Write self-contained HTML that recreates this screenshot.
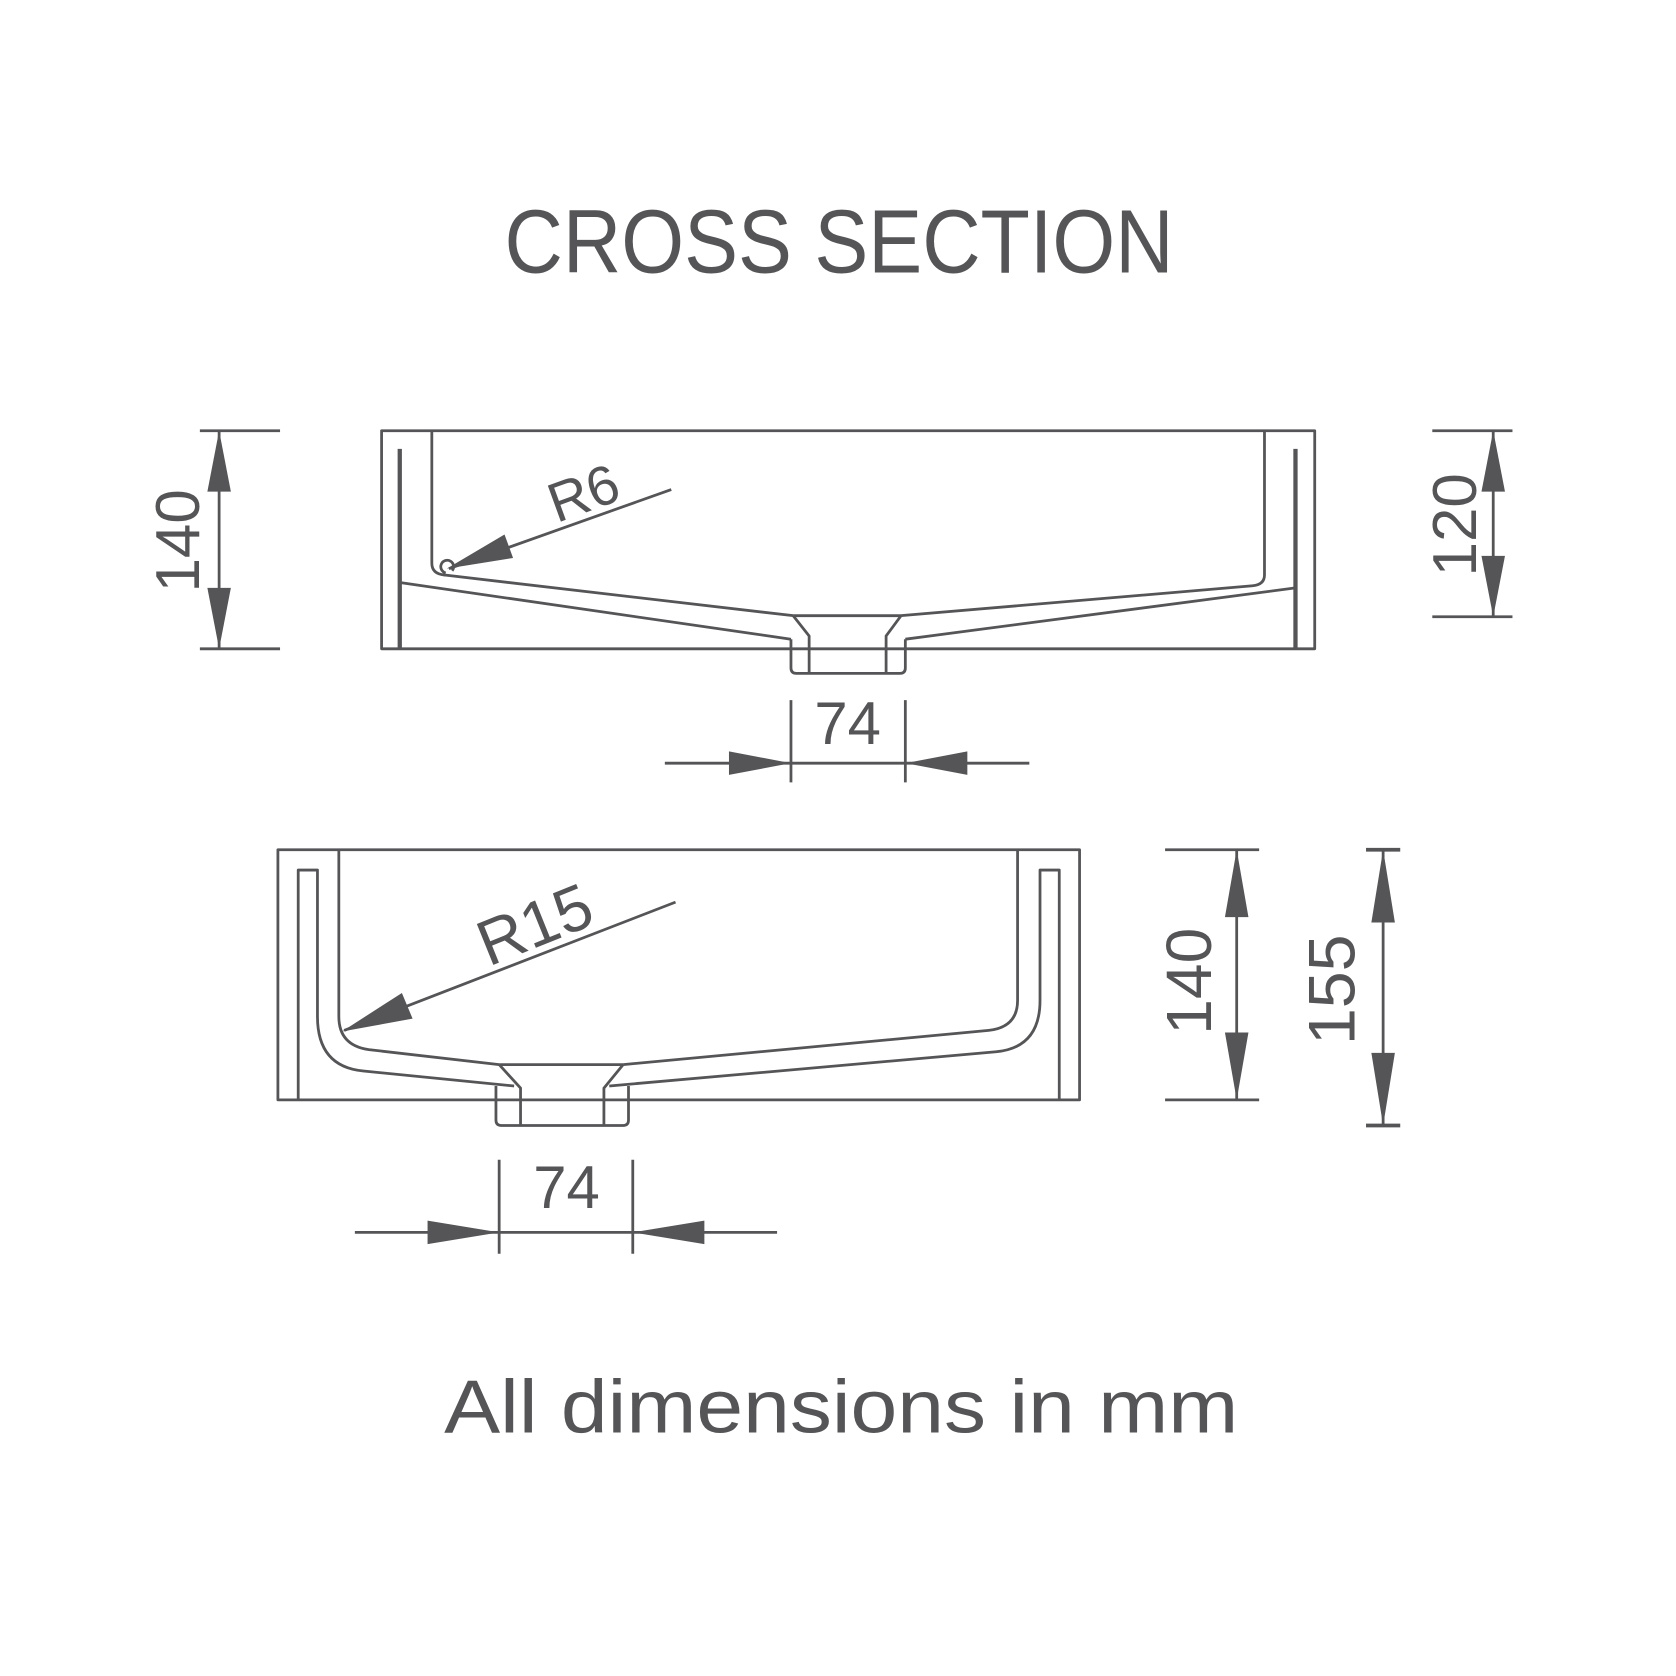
<!DOCTYPE html>
<html><head><meta charset="utf-8"><style>
html,body{margin:0;padding:0;background:#fff}
svg{display:block}
text{font-family:"Liberation Sans",Arial,sans-serif;fill:#555558}
</style></head><body>
<svg width="1676" height="1676" viewBox="0 0 1568 1568" xmlns="http://www.w3.org/2000/svg">
<g fill="none" stroke="#555558" stroke-width="2.6" stroke-linejoin="round">
<rect x="357" y="403" width="873" height="204"/>
<line x1="374" y1="420" x2="374" y2="607" stroke-width="4"/>
<line x1="1212" y1="420" x2="1212" y2="607" stroke-width="4"/>
<path d="M404 403 V527 Q404 537 416 538 L742 576"/>
<path d="M374 545 L740 598"/>
<path d="M1183 403 V538 Q1183 547 1172 548 L843 576"/>
<path d="M1212 550 L847 598"/>
<line x1="742" y1="576" x2="843" y2="576"/>
<path d="M742 576 L757 595 V630"/>
<path d="M843 576 L829 595 V630"/>
<path d="M740 598 V625 Q740 630 745 630 H842 Q847 630 847 625 V598"/>
<line x1="628" y1="458" x2="420" y2="532"/>
<path d="M417 536 a6 6 0 1 1 6 -2"/>
<line x1="187" y1="403" x2="262" y2="403"/>
<line x1="187" y1="607" x2="262" y2="607"/>
<line x1="205" y1="403" x2="205" y2="607"/>
<line x1="1340" y1="403" x2="1415" y2="403"/>
<line x1="1340" y1="577" x2="1415" y2="577"/>
<line x1="1397" y1="403" x2="1397" y2="577"/>
<line x1="740" y1="655" x2="740" y2="732"/>
<line x1="847" y1="655" x2="847" y2="732"/>
<line x1="622" y1="714" x2="963" y2="714"/>

<g transform="translate(0,6)">
<rect x="260" y="789" width="750" height="234"/>
<path d="M279 1023 V808 H297 V945 Q297 992 340 996 L481 1010"/>
<path d="M317 789 V945 Q317 972 345 976 L467 990"/>
<path d="M991 1023 V808 H973 V930 Q973 974 932 978 L570 1010"/>
<path d="M952 789 V930 Q952 955 925 958 L583 990"/>
<line x1="467" y1="990" x2="583" y2="990"/>
<path d="M467 990 L487 1012 V1047"/>
<path d="M583 990 L565 1012 V1047"/>
<path d="M464 1010 V1042 Q464 1047 469 1047 H583 Q588 1047 588 1042 V1010"/>
<line x1="632" y1="838" x2="322" y2="958"/>
<line x1="1090" y1="789" x2="1178" y2="789"/>
<line x1="1090" y1="1023" x2="1178" y2="1023"/>
<line x1="1157" y1="789" x2="1157" y2="1023"/>
<line x1="1278" y1="789" x2="1310" y2="789" stroke-width="3.5"/>
<line x1="1278" y1="1047" x2="1310" y2="1047" stroke-width="3.5"/>
<line x1="1294" y1="789" x2="1294" y2="1047"/>
</g>
<line x1="467" y1="1085" x2="467" y2="1173"/>
<line x1="592" y1="1085" x2="592" y2="1173"/>
<line x1="332" y1="1153" x2="727" y2="1153"/>
</g>
<g fill="#555558">
<polygon points="205,403 194,460 216,460"/>
<polygon points="205,607 194,550 216,550"/>
<polygon points="1397,403 1386,460 1408,460"/>
<polygon points="1397,577 1386,520 1408,520"/>
<polygon points="740,714 682,703 682,725"/>
<polygon points="847,714 905,703 905,725"/>
<polygon points="418,532 472,500 480,522"/>
<g transform="translate(0,6)">
<polygon points="1157,789 1146,852 1168,852"/>
<polygon points="1157,1023 1146,960 1168,960"/>
<polygon points="1294,789 1283,857 1305,857"/>
<polygon points="1294,1047 1283,979 1305,979"/>
<polygon points="320,959 376,923 386,947"/>
</g>
<polygon points="467,1153 400,1142 400,1164"/>
<polygon points="592,1153 659,1142 659,1164"/>
</g>
<text x="785" y="255" font-size="84" text-anchor="middle" textLength="626" lengthAdjust="spacingAndGlyphs">CROSS SECTION</text>
<text x="787" y="1340" font-size="70" text-anchor="middle" textLength="743" lengthAdjust="spacingAndGlyphs">All dimensions in mm</text>
<text x="793" y="696" font-size="56" text-anchor="middle">74</text>
<text x="530" y="1130" font-size="56" text-anchor="middle">74</text>
<text transform="translate(186,506) rotate(-90)" font-size="58" text-anchor="middle">140</text>
<text transform="translate(1381,491) rotate(-90)" font-size="58" text-anchor="middle">120</text>
<text transform="translate(1133,918) rotate(-90)" font-size="60" text-anchor="middle">140</text>
<text transform="translate(1267,926) rotate(-90)" font-size="62" text-anchor="middle">155</text>
<text transform="translate(552,478) rotate(-20)" font-size="52" text-anchor="middle">R6</text>
<text transform="translate(508,884) rotate(-22)" font-size="60" text-anchor="middle">R15</text>
</svg>
</body></html>
